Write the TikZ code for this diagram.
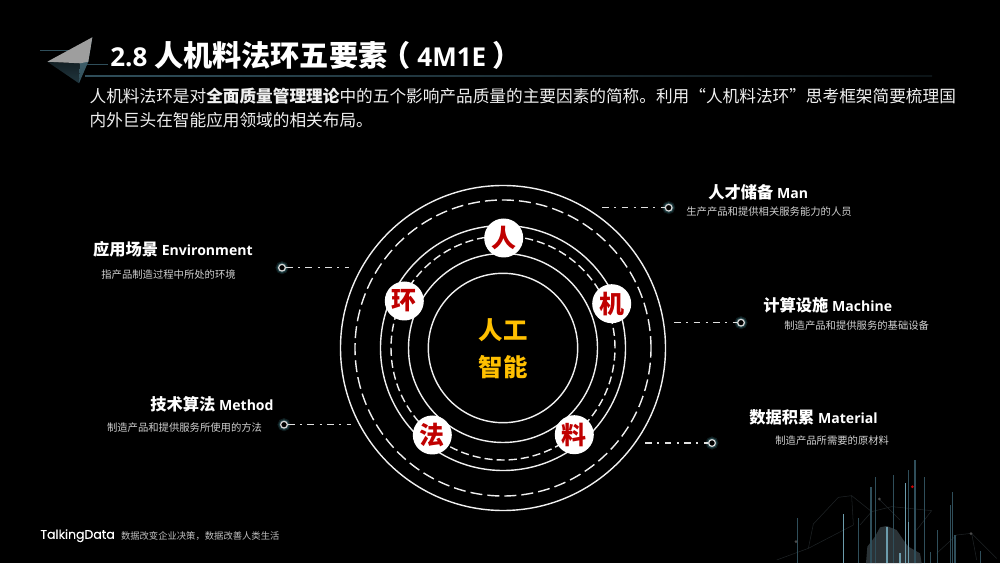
\documentclass[tikz,border=0pt]{standalone}
\usepackage{fontspec}
\setmainfont{Noto Sans CJK SC}
\newfontfamily\lat{Open Sans}
\newfontfamily\brandfont[FakeBold=0.15]{Poppins}
\usetikzlibrary{arrows,shapes,backgrounds}
\definecolor{slidebg}{HTML}{000000}
\definecolor{ringcol}{HTML}{F0F0F0}
\definecolor{redtext}{HTML}{C00000}
\definecolor{coretext}{HTML}{FFC000}
\definecolor{glowcol}{HTML}{4F9CA8}
\definecolor{barcol}{HTML}{2F4E5A}
\definecolor{barlight}{HTML}{6C9CAC}
\definecolor{meshcol}{HTML}{1E2325}
\definecolor{masscol}{HTML}{2B3337}
\newcommand{\headlat}[1]{{\lat\fontsize{8}{11}\selectfont #1}}
\newcommand{\titlelat}[1]{{\lat\fontsize{14.8}{20}\selectfont #1}}
\tikzset{
    titletext/.style={text=white, inner sep=0pt, font=\fontsize{16.6}{20}\selectfont\bfseries},
    bodytext/.style={text=white!94!black, inner sep=0pt, align=left, font=\fontsize{9.48}{13.66}\selectfont},
    headtext/.style={text=white, inner sep=0pt, font=\fontsize{9.25}{11}\selectfont\bfseries},
    subtext/.style={text=white!82!black, inner sep=0pt, font=\fontsize{5.88}{7}\selectfont},
    coretext/.style={text=coretext, inner sep=0pt, font=\fontsize{13.9}{16}\selectfont\bfseries},
    ringline/.style={draw=ringcol, line width=0.8pt},
    element/.style={circle, fill=white, minimum size=0.78cm, inner sep=0pt, text=redtext, font=\fontsize{14.2}{16}\selectfont\bfseries},
    linkdot/.style={circle, draw=white!85!black, fill=black, line width=0.7pt, minimum size=0.135cm, inner sep=0pt,
        preaction={draw=glowcol, draw opacity=0.18, line width=3.4pt},
        preaction={draw=glowcol, draw opacity=0.3, line width=2pt}},
    linkline/.style={draw=white!88!black, line width=0.7pt, dash pattern=on 3.8pt off 3.1pt on 1.1pt off 3.1pt},
    meshline/.style={draw=meshcol, line width=0.3pt},
}
\begin{document}
\begin{tikzpicture}
    \fill[slidebg] (0, 0) rectangle (20, 11.26);

    % page mark
    \shade[left color=barcol, right color=barcol!25!black] (1.7, 9.72) rectangle (18.64, 9.75);
    \draw[barcol, line width=0.4pt] (0.8, 10.26) -- (1.7, 10.26);
    \draw[barcol, line width=0.4pt] (1.55, 9.98) -- (2.16, 9.98);
    \fill[top color=black!60!barcol, bottom color=barcol!70!black] (0.946, 10.026) -- (1.6, 9.994) -- (1.58, 9.594) -- cycle;
    \fill[top color=barlight!70!black, bottom color=barcol] (1.846, 10.514) -- (1.766, 10.026) -- (1.58, 9.594) -- (1.6, 9.994) -- cycle;
    \fill[white!62!black] (0.946, 10.026) -- (1.846, 10.514) -- (1.766, 10.026) -- (1.6, 9.994) -- cycle;

    \draw (2.2, 10.16) node[anchor=west, titletext] (title) {\titlelat{2.8} 人机料法环五要素\hspace{-3.4pt}（\titlelat{\ 4M1E} ）};
    \draw (1.786, 9.1) node[anchor=west, bodytext] (intro) {人机料法环是对{\bfseries 全面质量管理理论}中的五个影响产品质量的主要因素的简称。利用“人机料法环”思考框架简要梳理国\\内外巨头在智能应用领域的相关布局。};

    % rings
    \coordinate (core) at (10.06, 4.3);
    \foreach \r in {1.494, 1.89, 2.45, 3.25}
        \draw[ringline] (core) circle (\r);
    \draw[ringline, dash pattern=on 6.8pt off 2.9pt] (core) circle (2.96);
    \draw[ringline, dash pattern=on 4.6pt off 2.3pt] (core) circle (2.24);

    \draw (10.06, 4.66) node[coretext] (corea) {人工};
    \draw (10.06, 3.92) node[coretext] (coreb) {智能};

    \draw (10.074, 6.5) node[element] (ren) {人};
    \draw (12.234, 5.186) node[element] (ji) {机};
    \draw (11.486, 2.566) node[element] (liao) {料};
    \draw (8.646, 2.56) node[element] (fa) {法};
    \draw (8.086, 5.24) node[element] (huan) {环};

    % labels
    \draw (14.16, 7.42) node[anchor=west, headtext] (manhead) {人才储备 \headlat{Man}};
    \draw (13.72, 7.02) node[anchor=west, subtext] (mansub) {生产产品和提供相关服务能力的人员};
    \draw (15.26, 5.146) node[anchor=west, headtext] (machhead) {计算设施 \headlat{Machine}};
    \draw (15.68, 4.74) node[anchor=west, subtext] (machsub) {制造产品和提供服务的基础设备};
    \draw (14.98, 2.92) node[anchor=west, headtext] (mathead) {数据积累 \headlat{Material}};
    \draw (15.5, 2.44) node[anchor=west, subtext] (matsub) {制造产品所需要的原材料};
    \draw (1.854, 6.28) node[anchor=west, headtext] (envhead) {应用场景 \headlat{Environment}};
    \draw (2.02, 5.76) node[anchor=west, subtext] (envsub) {指产品制造过程中所处的环境};
    \draw (3.0, 3.166) node[anchor=west, headtext] (methhead) {技术算法 \headlat{Method}};
    \draw (2.134, 2.71) node[anchor=west, subtext] (methsub) {制造产品和提供服务所使用的方法};

    % links
    \draw (13.374, 7.106) node[linkdot] (mandot) {};
    \draw (14.82, 4.806) node[linkdot] (machdot) {};
    \draw (14.24, 2.4) node[linkdot] (matdot) {};
    \draw (5.64, 5.906) node[linkdot] (envdot) {};
    \draw (5.68, 2.766) node[linkdot] (methdot) {};
    \coordinate (manend) at (12.04, 7.106);
    \coordinate (machend) at (13.48, 4.806);
    \coordinate (matend) at (12.906, 2.4);
    \coordinate (envend) at (6.974, 5.906);
    \coordinate (methend) at (7.014, 2.766);
    \draw[linkline] (manend) -- (mandot);
    \draw[linkline] (machend) -- (machdot);
    \draw[linkline] (matend) -- (matdot);
    \draw[linkline] (envdot) -- (envend);
    \draw[linkline] (methdot) -- (methend);

    % footer
    \draw (0.8, 0.546) node[anchor=west, inner sep=0pt, text=white, font=\brandfont\fontsize{7.1}{9}\selectfont] (brand) {TalkingData};
    \draw (2.414, 0.546) node[anchor=west, inner sep=0pt, text=white!75!black, font=\fontsize{5.3}{7}\selectfont] (slogan) {数据改变企业决策，数据改善人类生活};

    % corner skyline
    \draw[meshline] (15.533, 0.06) -- (16.167, 0.293) -- (16.267, 0.78) -- (16.767, 1.313) -- (17.033, 1.347) -- (17.433, 1.027) -- (17.833, 1.127) -- (18.633, 1.047) -- (18.333, 0.66);
    \draw[meshline] (17.033, 1.347) -- (17.067, 0.76) -- (16.167, 0.293);
    \draw[meshline] (17.433, 1.027) -- (17.2, 0.76);
    \draw[meshline] (17.6, 1.26) -- (18.0, 0.86);
    \draw[meshline] (18.733, 0.193) -- (19.133, 0.56) -- (19.433, 0.593) -- (19.933, 0.093);
    \draw[meshline] (19.433, 0.593) -- (19.533, 0.06);
    \fill[masscol] (17.32, 0) -- (17.347, 0.327) -- (17.5, 0.527) -- (17.6, 0.713) -- (17.733, 0.74) -- (17.933, 0.66) -- (18.067, 0.46) -- (18.167, 0.327) -- (18.4, 0.193) -- (18.433, 0) -- cycle;
    \foreach \x/\y in {15.947/0.907, 17.167/0.893, 17.42/1.527, 17.507/1.713, 17.867/1.753, 18.167/1.86, 18.3/2.06, 18.493/1.727, 18.753/0.66, 18.607/0.227, 19.013/1.16, 19.053/1.427, 19.1/0.56, 19.607/0.24}
        \draw[barcol, line width=0.7pt] (\x, 0) -- (\x, \y);
    \foreach \x/\y in {16.867/0.98, 18.107/1.593, 17.74/0.727, 18.0/0.193, 18.167/0.827}
        \draw[barlight, line width=0.7pt] (\x, 0) -- (\x, \y);
    \foreach \x/\y in {17.587/1.28, 15.92/0.427, 19.42/0.587}
        \fill[black!70!white] (\x, \y) circle (0.03);
    \fill[red!80!black] (18.247, 1.527) circle (0.03);
\end{tikzpicture}
\end{document}
